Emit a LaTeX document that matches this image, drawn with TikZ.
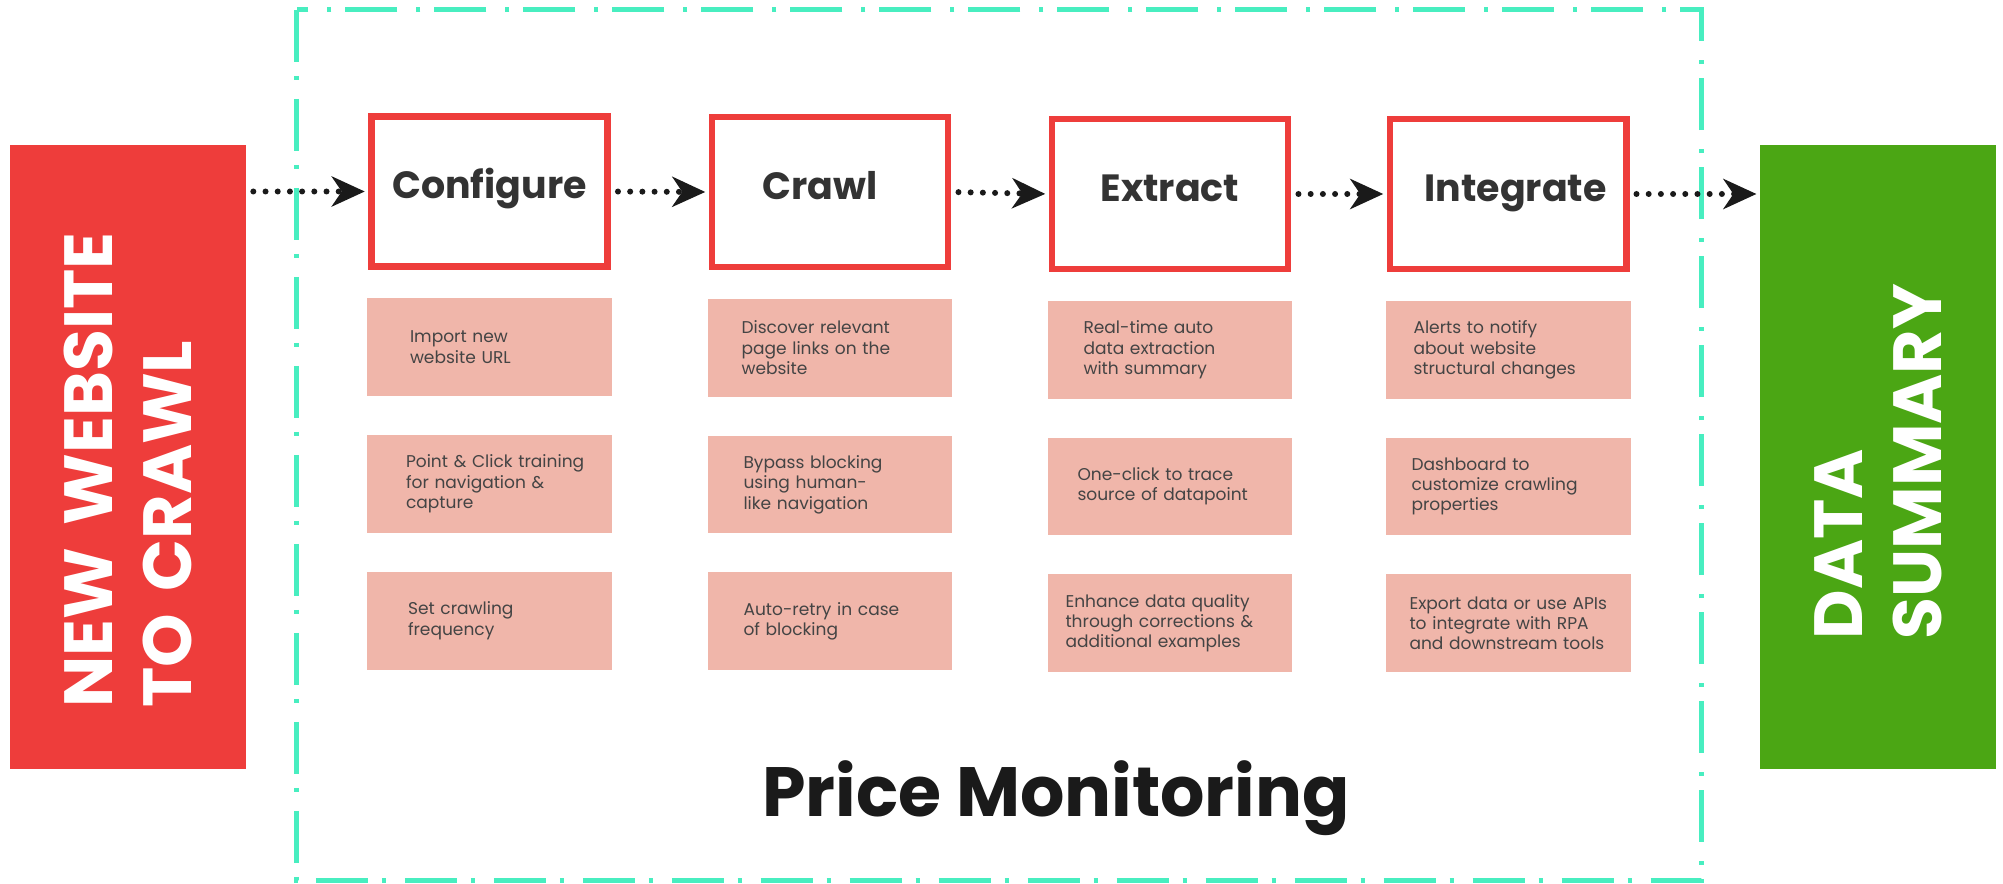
\documentclass[tikz,border=0pt]{standalone}
\usepackage{fontspec}
\setmainfont{Poppins}
\usepackage{tikz}
\usetikzlibrary{positioning,arrows.meta}
\definecolor{boxred}{HTML}{EE3D3B}
\definecolor{sumgreen}{HTML}{4BA614}
\definecolor{taskpink}{HTML}{F0B6AA}
\definecolor{frameteal}{HTML}{48EEC0}
\definecolor{inkgray}{HTML}{333333}
\definecolor{taskgray}{HTML}{444444}
\definecolor{inkblack}{HTML}{1A1A1A}

\begin{document}
\begin{tikzpicture}[x=0.02cm, y=-0.02cm,
  side/.style={rotate=90, minimum width=12.5cm, minimum height=4.72cm, text=white, align=left, font=\bfseries\fontsize{38.8}{45}\selectfont},
  stage/.style={draw=boxred, line width=0.13cm, minimum width=4.73cm, minimum height=3.01cm, text=inkgray, text height=1.05em, text depth=0.25em, font=\bfseries\fontsize{21.6}{26}\selectfont},
  task/.style={fill=taskpink, minimum width=4.9cm, minimum height=1.96cm, text width=4.9cm, inner xsep=0pt, align=left, text=taskgray, font=\fontsize{9.7}{11.6}\selectfont, execute at begin node={\leftskip=#1\relax}},
  frame/.style={draw=frameteal, line width=0.1cm, dash pattern=on 1.04cm off 0.28cm on 0.08cm off 0.38cm},
  flow/.style={draw=inkblack, line width=0.12cm, line cap=round, dash pattern=on 0pt off 0.244cm, shorten <=0.14cm, shorten >=0.065cm, -{Stealth[length=0.66cm, width=0.6cm, inset=0.2cm]}}]
\path[fill=white] (0,0) rectangle (2003,884);
\useasboundingbox (0,0) rectangle (2003,884);
\draw[frame] (296.5,10) rectangle (1701,880.5);

\node[side, fill=boxred, text width=10.04cm] (newsite) at (128,457) {NEW WEBSITE\\TO CRAWL};
\node[side, fill=sumgreen, text width=7.3cm] (summary) at (1878,457) {DATA\\SUMMARY};

\node[stage] (cfg) at (489.5,191.5) {Configure};
\node[stage] (crawl) at (830,192) {\hspace*{-0.4cm}Crawl};
\node[stage] (extr) at (1170,194) {Extract};
\node[stage] (intg) at (1508,194) {\hspace*{0.3cm}Integrate};

\node[task=0.86cm, below=0.56cm of cfg] (cfg1) {Import new\\website URL};
\node[task=0.78cm, below=0.76cm of cfg1] (cfg2) {Point \& Click training\\for navigation \&\\capture};
\node[task=0.82cm, below=0.76cm of cfg2] (cfg3) {Set crawling\\frequency};

\node[task=0.68cm, below=0.56cm of crawl] (crawl1) {Discover relevant\\page links on the\\website};
\node[task=0.72cm, below=0.76cm of crawl1] (crawl2) {Bypass blocking\\using human-\\like navigation};
\node[task=0.72cm, below=0.76cm of crawl2] (crawl3) {Auto-retry in case\\of blocking};

\node[task=0.72cm, below=0.56cm of extr] (extr1) {Real-time auto\\data extraction\\with summary};
\node[task=0.6cm, below=0.76cm of extr1] (extr2) {One-click to trace\\source of datapoint};
\node[task=0.36cm, below=0.76cm of extr2] (extr3) {Enhance data quality\\through corrections \&\\additional examples};

\node[task=0.56cm, below=0.56cm of intg] (intg1) {Alerts to notify\\about website\\structural changes};
\node[task=0.52cm, below=0.76cm of intg1] (intg2) {Dashboard to\\customize crawling\\properties};
\node[task=0.48cm, below=0.76cm of intg2] (intg3) {Export data or use APIs\\to integrate with RPA\\and downstream tools};

\node[anchor=base, text=inkblack, font=\bfseries\fontsize{39.7}{46}\selectfont] (pricemon) at (1056,816) {Price Monitoring};

\draw[flow] (newsite.south |- cfg.west) -- (cfg.west);
\draw[flow] (cfg.east) -- (crawl.west);
\draw[flow] (crawl.east) -- (extr.west);
\draw[flow] (extr.east) -- (intg.west);
\draw[flow] (intg.east) -- (summary.north |- intg.east);
\end{tikzpicture}
\end{document}
